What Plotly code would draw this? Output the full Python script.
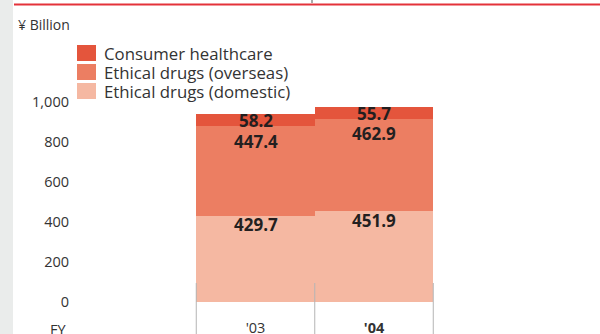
import plotly.graph_objects as go

# ---- data ----
years = ["'03", "'04"]
year_labels = ["'03", "<b>'04</b>"]
series_names = ["Ethical drugs (domestic)", "Ethical drugs (overseas)", "Consumer healthcare"]
domestic = [429.7, 451.9]
overseas = [447.4, 462.9]
consumer = [58.2, 55.7]
y_ticks = [0, 200, 400, 600, 800, 1000]
unit_label = "¥ Billion"
axis_label = "FY"

# ---- style ----
colors = ["#f5b8a2", "#ec7e62", "#e4553c"]
label_offsets = [9, 15, 6]          # px below segment top for value labels
FONT = "Open Sans"
W, H = 600, 334
ML, MR, MT, MB = 72, 0, 20, 32
PLOT_W = W - ML - MR
PLOT_H = H - MT - MB
PX_PER_UNIT = 0.2005
Y_MAX = PLOT_H / PX_PER_UNIT
CAT_W = 118.5
CAT0_X = 255.5


def px_x(px):
    return (px - ML) / PLOT_W


def px_y(py):
    return (H - MB - py) / PLOT_H


series_values = [domestic, overseas, consumer]

fig = go.Figure()
for name, vals, col in zip(series_names, series_values, colors):
    fig.add_trace(go.Bar(x=years, y=vals, name=name, marker=dict(color=col, line=dict(width=0)),
                         showlegend=False, hoverinfo="x+y+name"))

# value labels
annotations = []
for i, yr in enumerate(years):
    cum = 0
    for vals, off in zip(series_values, label_offsets):
        cum += vals[i]
        annotations.append(dict(x=yr, y=cum, xref="x", yref="y", text=f"<b>{vals[i]:.1f}</b>",
                                showarrow=False, yanchor="middle", yshift=-off, borderpad=0,
                                font=dict(family=FONT, size=17, color="#231f20")))

# custom legend (top to bottom: consumer, overseas, domestic)
shapes = []
leg_rows = [53, 72, 91]
for row_y, name, col in zip(leg_rows, series_names[::-1], colors[::-1]):
    shapes.append(dict(type="rect", xref="paper", yref="paper",
                       x0=px_x(77), x1=px_x(96), y0=px_y(row_y - 8), y1=px_y(row_y + 8),
                       fillcolor=col, line=dict(width=0), layer="above"))
    annotations.append(dict(x=px_x(103), y=px_y(row_y), xref="paper", yref="paper", text=name,
                            showarrow=False, xanchor="left", yanchor="middle", borderpad=0,
                            font=dict(family=FONT, size=16.8, color="#333333")))

annotations.append(dict(x=px_x(16), y=px_y(24), xref="paper", yref="paper", text=unit_label,
                        showarrow=False, xanchor="left", yanchor="middle",
                        font=dict(family=FONT, size=14, color="#333333")))
annotations.append(dict(x=px_x(68), y=px_y(329), xref="paper", yref="paper", text=axis_label,
                        showarrow=False, xanchor="right", yanchor="middle",
                        font=dict(family=FONT, size=14.5, color="#333333")))

# left gray band and top red rule
shapes.append(dict(type="rect", xref="paper", yref="paper", x0=px_x(-2), x1=px_x(13),
                   y0=px_y(H + 5), y1=px_y(-5), fillcolor="#eaeceb", line=dict(width=0), layer="below"))
shapes.append(dict(type="line", xref="paper", yref="paper", x0=px_x(14), x1=px_x(W + 2),
                   y0=px_y(4.5), y1=px_y(4.5), line=dict(color="#e4323a", width=2), layer="above"))
shapes.append(dict(type="line", xref="paper", yref="paper", x0=px_x(312), x1=px_x(312),
                   y0=px_y(0), y1=px_y(3), line=dict(color="#555555", width=1), layer="above"))

# category separators
for k in range(len(years) + 1):
    xv = k - 0.5
    shapes.append(dict(type="line", xref="x", yref="paper", x0=xv, x1=xv,
                       y0=px_y(283), y1=px_y(H + 5), line=dict(color="#b4b4b4", width=1), layer="above"))

x_lo = (ML - CAT0_X) / CAT_W
x_hi = (W - MR - CAT0_X) / CAT_W

fig.update_layout(
    width=W, height=H, margin=dict(l=ML, r=MR, t=MT, b=MB, autoexpand=False),
    barmode="stack", bargap=0,
    plot_bgcolor="white", paper_bgcolor="white",
    showlegend=False,
    font=dict(family=FONT, size=14, color="#333333"),
    xaxis=dict(type="category", range=[x_lo, x_hi], tickvals=years, ticktext=year_labels,
               showgrid=False, showline=False, zeroline=False, ticks="", automargin=False,
               ticklabelstandoff=15, tickfont=dict(family=FONT, size=14.5, color="#333333")),
    yaxis=dict(range=[0, Y_MAX], tickvals=y_ticks, tickformat=",", showgrid=False, showline=False,
               zeroline=False, ticks="", automargin=False, ticklabelstandoff=2,
               tickfont=dict(family=FONT, size=14.5, color="#333333")),
    annotations=annotations, shapes=shapes,
)

fig.write_html("out.html")
